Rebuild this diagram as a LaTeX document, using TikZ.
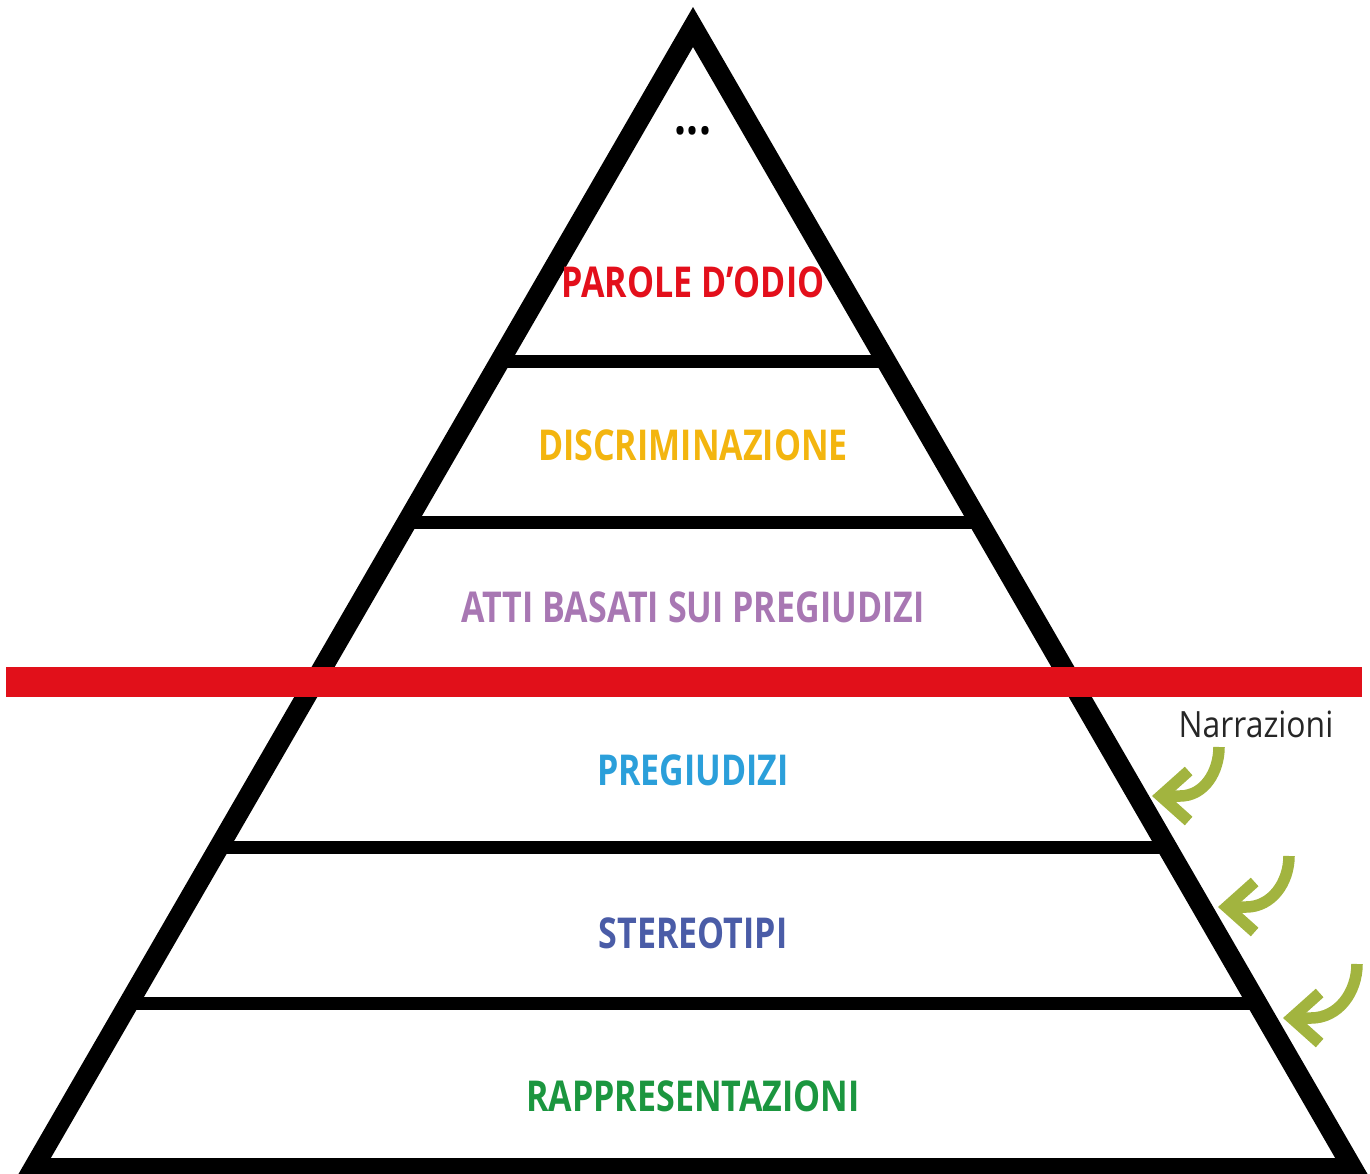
\documentclass[tikz,border=0pt]{standalone}
\usepackage{fontspec}
\usepackage{tikz}
\usetikzlibrary{arrows.meta,positioning}
\setmainfont{Open Sans}
\newfontfamily\condfont{Open Sans}[FakeStretch=0.8]
\newfontfamily\narrfont{Open Sans}[FakeStretch=0.88]
\definecolor{odio}{HTML}{E30F1B}
\definecolor{discr}{HTML}{F3B50F}
\definecolor{atti}{HTML}{A877B3}
\definecolor{pregiud}{HTML}{2B9FDA}
\definecolor{stereo}{HTML}{4A5CA7}
\definecolor{rappr}{HTML}{1B963F}
\definecolor{narr}{HTML}{A2B43F}
\definecolor{soglia}{HTML}{E1101A}

\begin{document}
\begin{tikzpicture}[
    x=0.1mm, y=-0.1mm,
    font=\condfont\bfseries\fontsize{12.1pt}{14pt}\selectfont,
    side/.style={draw, line width=2mm, line join=miter},
    floor/.style={draw, line width=1.3mm},
    level/.style={anchor=base, inner sep=0pt},
    narrow/.style={draw=narr, line width=1.15mm, -{Straight Barb[length=2.8mm, width=5mm]}}
]
\useasboundingbox (0,0) rectangle (1370,1174);

% Pyramid
\draw[side] (33.5,1168) -- (693,27) -- (1352.5,1168) -- cycle;
\foreach \y in {361,522,847,1003}
    \draw[floor] ({693-(\y-27)*0.578},\y) -- ({693+(\y-27)*0.578},\y);

% Levels (top to bottom)
\node[level, font=\condfont\bfseries\fontsize{15pt}{16pt}\selectfont] (top) at (693,135) {...};
\node[level, text=odio] (odio) at (693,297) {PAROLE D’ODIO};
\node[level, text=discr] (discr) at (693,460) {DISCRIMINAZIONE};
\node[level, text=atti] (atti) at (693,622) {ATTI BASATI SUI PREGIUDIZI};
\node[level, text=pregiud] (pregiud) at (693,785) {PREGIUDIZI};
\node[level, text=stereo] (stereo) at (693,948) {STEREOTIPI};
\node[level, text=rappr] (rappr) at (693,1111) {RAPPRESENTAZIONI};

% Threshold
\fill[soglia] (6,667) rectangle (1362,697);

% Narratives
\node[level, font=\narrfont\fontsize{10.3pt}{12pt}\selectfont, text=black!85] (narr) at (1256,737) {Narrazioni};
\coordinate (a1) at (1219,747);
\coordinate (b1) at (1152,796);
\coordinate (a2) at (1289,856);
\coordinate (b2) at (1218,907);
\coordinate (a3) at (1357,964);
\coordinate (b3) at (1283,1018);
\draw[narrow] (a1) to[out=-90, in=0] ([xshift=2.8mm]b1) -- (b1);
\draw[narrow] (a2) to[out=-90, in=0] ([xshift=2.8mm]b2) -- (b2);
\draw[narrow] (a3) to[out=-90, in=0] ([xshift=2.8mm]b3) -- (b3);

\end{tikzpicture}
\end{document}
